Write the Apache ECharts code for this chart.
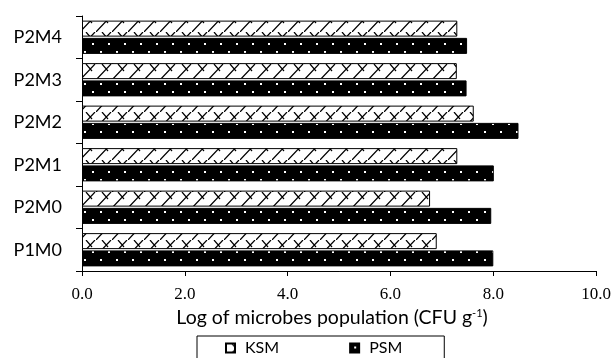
<!DOCTYPE html>
<html>
<head>
<meta charset="utf-8">
<script src="https://cdn.jsdelivr.net/npm/echarts@6/dist/echarts.min.js"></script>
<style>
html,body{margin:0;padding:0;background:#fff;}
#chart{width:614px;height:358px;}
</style>
</head>
<body>
<div id="chart"></div>
<script>
const categories = ['P1M0', 'P2M0', 'P2M1', 'P2M2', 'P2M3', 'P2M4'];
const ksmValues = [6.90, 6.77, 7.30, 7.62, 7.29, 7.30];
const psmValues = [8.00, 7.96, 8.01, 8.49, 7.48, 7.49];
const xTicks = [0, 2, 4, 6, 8, 10];

function hatchPattern() {
  const c = document.createElement('canvas');
  c.width = 16; c.height = 16;
  const g = c.getContext('2d');
  g.fillStyle = '#fff';
  g.fillRect(0, 0, 16, 16);
  g.strokeStyle = '#000';
  g.lineWidth = 1.2;
  g.beginPath();
  g.moveTo(0, 16); g.lineTo(15, 0);
  g.moveTo(6, 0); g.lineTo(12, 7);
  g.stroke();
  return c;
}
function dotPattern() {
  const c = document.createElement('canvas');
  c.width = 16; c.height = 16;
  const g = c.getContext('2d');
  g.fillStyle = '#000';
  g.fillRect(0, 0, 16, 16);
  g.fillStyle = '#fff';
  g.fillRect(4, 3, 2, 2);
  g.fillRect(12, 11, 2, 2);
  return c;
}

const chart = echarts.init(document.getElementById('chart'), null, {renderer: 'canvas'});
const ksmColor = {image: hatchPattern(), repeat: 'repeat'};
const psmColor = {image: dotPattern(), repeat: 'repeat'};

chart.setOption({
  animation: false,
  backgroundColor: '#fff',
  grid: {left: 82, right: 16, top: 16, bottom: 87, containLabel: false},
  legend: {
    data: ['KSM', 'PSM'],
    icon: 'rect',
    left: 197,
    top: 336,
    orient: 'horizontal',
    itemWidth: 9,
    itemHeight: 9,
    itemGap: 70,
    padding: [4, 42, 30, 28],
    borderColor: '#000',
    borderWidth: 1,
    textStyle: {fontFamily: 'Lato', fontSize: 16, color: '#000', padding: [0, 0, 0, 5]}
  },
  xAxis: {
    type: 'value',
    min: 0, max: 10, interval: 2,
    name: 'Log of microbes population (CFU g{sup|-1})',
    nameLocation: 'middle',
    nameGap: 36,
    nameTextStyle: {
      fontFamily: 'Lato', fontSize: 19.5, color: '#000', padding: [0, 14, 0, 0],
      rich: {sup: {fontFamily: 'Lato', fontSize: 11, color: '#000', verticalAlign: 'top', padding: [0, 0, 9, 0]}}
    },
    axisLine: {show: true, lineStyle: {color: '#000', width: 1}},
    axisTick: {show: true, length: 5, lineStyle: {color: '#000'}},
    axisLabel: {
      margin: 15, fontFamily: 'Liberation Serif', fontSize: 17, color: '#000',
      formatter: function (v) { return xTicks.indexOf(v) >= 0 ? v.toFixed(1) : ''; }
    },
    splitLine: {show: false}
  },
  yAxis: {
    type: 'category',
    data: categories,
    axisLine: {show: true, lineStyle: {color: '#000', width: 1}},
    axisTick: {show: true, length: 6, lineStyle: {color: '#000'}},
    axisLabel: {margin: 20, fontFamily: 'Lato', fontSize: 18, color: '#000'},
    splitLine: {show: false}
  },
  series: [
    {
      name: 'KSM', type: 'bar', data: ksmValues,
      barWidth: 16, barGap: '8%',
      itemStyle: {color: ksmColor, borderColor: '#000', borderWidth: 1}
    },
    {
      name: 'PSM', type: 'bar', data: psmValues,
      barWidth: 16, barGap: '8%',
      itemStyle: {color: psmColor, borderColor: '#000', borderWidth: 1}
    }
  ]
});
</script>
</body>
</html>
